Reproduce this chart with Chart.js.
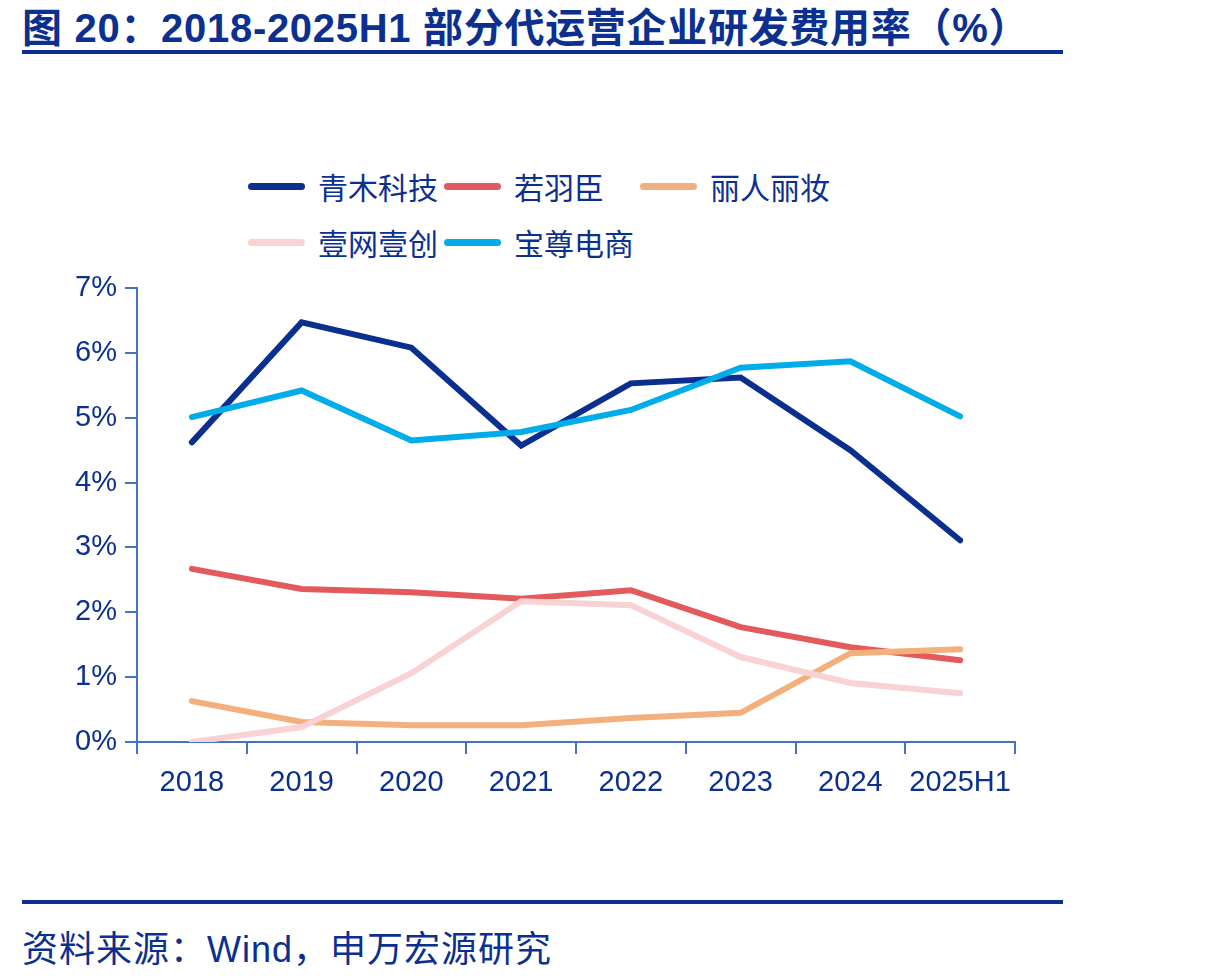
<!DOCTYPE html>
<html>
<head>
<meta charset="utf-8">
<script src="https://cdn.jsdelivr.net/npm/chart.js@4.4.1/dist/chart.umd.min.js"></script>
<style>
  body { margin: 0; background: #fff; width: 1232px; height: 978px; position: relative; overflow: hidden;
         font-family: "Liberation Sans", Arial, "Noto Sans CJK SC", sans-serif; color: #0b3090; }
  .title { position: absolute; left: 22px; top: -4px; font-size: 40px; font-weight: bold; white-space: nowrap; letter-spacing: 0.7px; }
  .rule { position: absolute; left: 22px; width: 1041px; height: 4px; background: #0b3090; }
  .legend { position: absolute; left: 248px; top: 166px; display: grid; grid-template-columns: 196px 196px auto; row-gap: 16px; }
  .item { display: flex; align-items: center; height: 40px; font-size: 30px; white-space: nowrap; }
  .swatch { width: 57px; height: 7px; border-radius: 4px; margin-right: 13px; }
  .source { position: absolute; left: 22px; top: 920px; font-size: 36px; white-space: nowrap; letter-spacing: 1px; }
  canvas { position: absolute; left: 0; top: 260px; }
</style>
</head>
<body>
<div class="title">图 20：2018-2025H1 部分代运营企业研发费用率（%）</div>
<div class="rule" style="top:50px"></div>
<div class="legend" id="legend"></div>
<canvas id="chart" width="1232" height="560"></canvas>
<div class="rule" style="top:900px"></div>
<div class="source">资料来源：Wind，申万宏源研究</div>

<script>
const years = ['2018', '2019', '2020', '2021', '2022', '2023', '2024', '2025H1'];
const qingmu = [4.62, 6.47, 6.08, 4.57, 5.53, 5.62, 4.50, 3.11];
const ruoyuchen = [2.67, 2.36, 2.31, 2.21, 2.34, 1.77, 1.46, 1.26];
const lirenlizhuang = [0.63, 0.31, 0.26, 0.26, 0.37, 0.45, 1.37, 1.43];
const yiwangyichuang = [0.0, 0.23, 1.06, 2.17, 2.11, 1.31, 0.91, 0.75];
const baozun = [5.01, 5.42, 4.65, 4.78, 5.12, 5.77, 5.87, 5.02];

const names = ['青木科技', '若羽臣', '丽人丽妆', '壹网壹创', '宝尊电商'];
const colors = ['#0a2f8f', '#e35a5c', '#f4b07c', '#f9d2d3', '#00adea'];
const series = [qingmu, ruoyuchen, lirenlizhuang, yiwangyichuang, baozun];
const drawOrder = [5, 4, 3, 2, 1];

const axisColor = '#4472c4';
const textColor = '#0b3090';

// legend as html, two rows like the source figure
const legendEl = document.getElementById('legend');
names.forEach((n, i) => {
  const d = document.createElement('div');
  d.className = 'item';
  d.innerHTML = '<span class="swatch" style="background:' + colors[i] + '"></span>' + n;
  legendEl.appendChild(d);
});

const ctx = document.getElementById('chart').getContext('2d');
new Chart(ctx, {
  type: 'line',
  data: {
    labels: years,
    datasets: series.map((s, i) => ({
      label: names[i],
      data: s,
      borderColor: colors[i],
      backgroundColor: colors[i],
      borderWidth: 6,
      pointRadius: 0,
      tension: 0,
      borderCapStyle: 'round',
      borderJoinStyle: 'miter',
      order: drawOrder[i]
    }))
  },
  options: {
    responsive: false,
    animation: false,
    layout: { padding: { top: 28, right: 217, left: 0, bottom: 0 } },
    plugins: { legend: { display: false }, tooltip: { enabled: false } },
    scales: {
      x: {
        offset: true,
        grid: { display: true, offset: true, drawOnChartArea: false, drawTicks: true, tickLength: 12, color: axisColor, lineWidth: 2 },
        border: { display: true, color: axisColor, width: 2 },
        ticks: { color: textColor, padding: 12, font: { family: 'Liberation Sans', size: 29 }, maxRotation: 0 },
        afterFit: (scale) => { scale.height = 78; }
      },
      y: {
        min: 0,
        max: 7,
        ticks: { stepSize: 1, color: textColor, padding: 8, font: { family: 'Liberation Sans', size: 29 }, callback: (v) => v + '%' },
        grid: { display: true, drawOnChartArea: false, drawTicks: true, tickLength: 12, color: axisColor, lineWidth: 2 },
        border: { display: true, color: axisColor, width: 2 },
        afterFit: (scale) => { scale.width = 137; }
      }
    }
  }
});
</script>
</body>
</html>
